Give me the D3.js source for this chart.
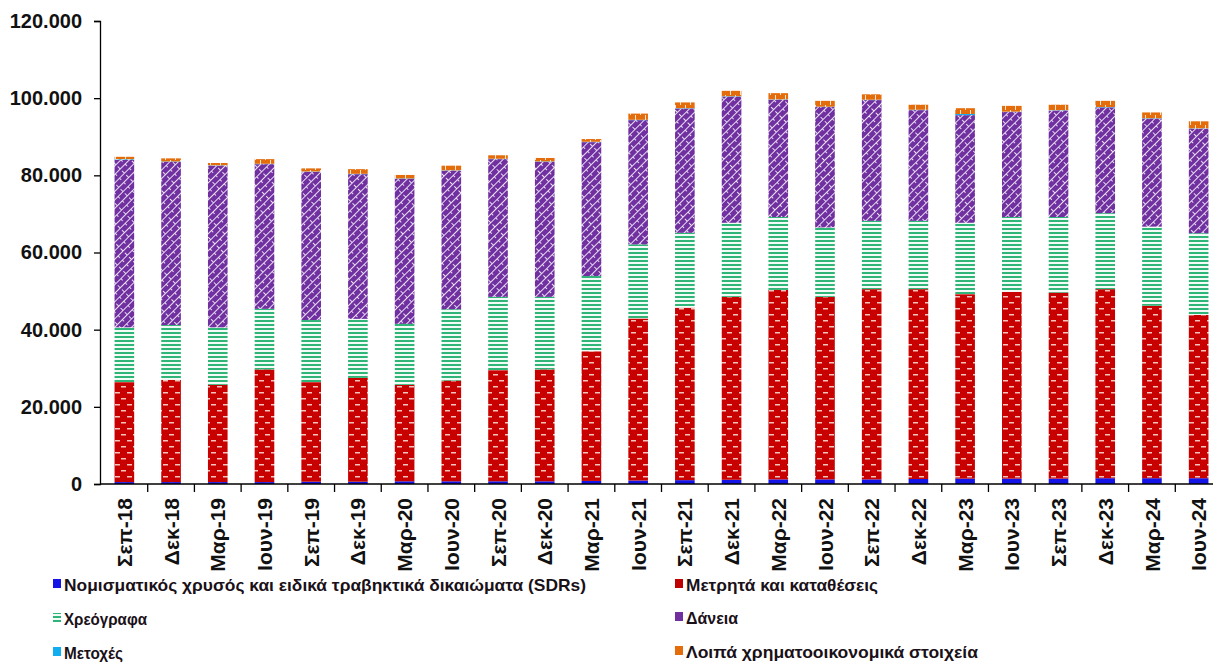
<!DOCTYPE html>
<html>
<head>
<meta charset="utf-8">
<script src="https://cdn.jsdelivr.net/npm/d3@7"></script>
<style>
  html, body { margin: 0; padding: 0; background: #ffffff; }
  svg { display: block; font-family: "Liberation Sans", Arial, sans-serif; }
</style>
</head>
<body>
<svg id="chart" width="1213" height="663"></svg>
<script>
// ---- Data (million EUR) ----
const categories = ["Σεπ-18","Δεκ-18","Μαρ-19","Ιουν-19","Σεπ-19","Δεκ-19","Μαρ-20","Ιουν-20","Σεπ-20","Δεκ-20","Μαρ-21","Ιουν-21","Σεπ-21","Δεκ-21","Μαρ-22","Ιουν-22","Σεπ-22","Δεκ-22","Μαρ-23","Ιουν-23","Σεπ-23","Δεκ-23","Μαρ-24","Ιουν-24"];
const gold       = [500,500,500,500,600,600,700,700,700,700,800,900,1000,1100,1200,1200,1200,1300,1400,1400,1400,1500,1500,1500];
const cash       = [25900,26500,25200,29200,25800,26900,25000,26100,28800,29000,33600,42000,44700,47400,49100,47300,49300,49200,47800,48400,48200,49000,44700,42300];
const securities = [14200,14200,14900,15700,16100,15300,15800,18500,19000,18800,19500,19200,19400,19200,18900,18000,17700,17700,18500,19400,19600,19700,20500,21200];
const loans      = [43400,42300,41900,37500,38400,37500,37600,35900,35700,35000,34700,32200,32200,32700,30400,31200,31300,28700,27900,27200,27600,27400,28000,27100];
const shares     = [200,100,100,100,100,100,100,100,100,100,100,100,100,100,100,100,100,100,300,100,100,100,100,100];
const other      = [600,800,600,1200,800,1200,900,1200,900,900,700,1600,1500,1400,1600,1500,1400,1300,1500,1500,1400,1600,1500,1800];
const yTicks = [0,20000,40000,60000,80000,100000,120000];
const seriesNames = {
  gold: "Νομισματικός χρυσός και ειδικά τραβηκτικά δικαιώματα (SDRs)",
  cash: "Μετρητά και καταθέσεις",
  securities: "Χρεόγραφα",
  loans: "Δάνεια",
  shares: "Μετοχές",
  other: "Λοιπά χρηματοοικονομικά  στοιχεία"
};

const keys = ["gold","cash","securities","loans","shares","other"];
const table = categories.map((c, i) => ({
  cat: c, gold: gold[i], cash: cash[i], securities: securities[i],
  loans: loans[i], shares: shares[i], other: other[i]
}));

const svg = d3.select("#chart");
const defs = svg.append("defs");

// ---- Patterns ----
const pGold = defs.append("pattern").attr("id","p-gold").attr("patternUnits","userSpaceOnUse").attr("width",6).attr("height",6);
pGold.append("rect").attr("width",6).attr("height",6).attr("fill","#1414e6");

const pCash = defs.append("pattern").attr("id","p-cash").attr("patternUnits","userSpaceOnUse").attr("width",12).attr("height",12);
pCash.append("rect").attr("width",12).attr("height",12).attr("fill","#c80000");
pCash.append("rect").attr("x",1).attr("y",2).attr("width",5).attr("height",1.5).attr("fill","#f2c6bf");
pCash.append("rect").attr("x",7).attr("y",8).attr("width",5).attr("height",1.5).attr("fill","#f2c6bf");

const pSec = defs.append("pattern").attr("id","p-sec").attr("patternUnits","userSpaceOnUse").attr("width",4).attr("height",4);
pSec.append("rect").attr("width",4).attr("height",4).attr("fill","#f2fbf6");
pSec.append("rect").attr("width",4).attr("height",2).attr("fill","#2fb578");

const pLoans = defs.append("pattern").attr("id","p-loans").attr("patternUnits","userSpaceOnUse")
  .attr("width",14).attr("height",6).attr("patternTransform","rotate(-45)");
pLoans.append("rect").attr("width",14).attr("height",6).attr("fill","#7030a0");
pLoans.append("path").attr("d","M0,0.5H14M0.5,0V3M7.5,3V6")
  .attr("stroke","#e8def2").attr("stroke-width",1).attr("fill","none");

const pShares = defs.append("pattern").attr("id","p-shares").attr("patternUnits","userSpaceOnUse").attr("width",6).attr("height",6);
pShares.append("rect").attr("width",6).attr("height",6).attr("fill","#10aef0");
pShares.append("path").attr("d","M0,2L3,4L6,2").attr("stroke","#ffffff").attr("stroke-width",0.8).attr("fill","none");

const pOther = defs.append("pattern").attr("id","p-other").attr("patternUnits","userSpaceOnUse").attr("width",10).attr("height",10);
pOther.append("rect").attr("width",10).attr("height",10).attr("fill","#e46c0a");
pOther.append("path").attr("d","M0.5,0V5M5.5,5V10").attr("stroke","#fbe3d0").attr("stroke-width",1).attr("fill","none");

const fills = {gold:"url(#p-gold)", cash:"url(#p-cash)", securities:"url(#p-sec)", loans:"url(#p-loans)", shares:"url(#p-shares)", other:"url(#p-other)"};
const legendFills = {gold:"#1414e6", cash:"#c00000", securities:"url(#p-sec)", loans:"#7030a0", shares:"#10aef0", other:"#e46c0a"};

// ---- Scales ----
const x = d3.scaleBand().domain(categories).range([101, 1222]).paddingInner(0.58).paddingOuter(0.29);
const y = d3.scaleLinear().domain([0, 120000]).range([484, 21]);

const stacked = d3.stack().keys(keys)(table);

// ---- Bars ----
const g = svg.append("g");
stacked.forEach(layer => {
  g.append("g").attr("fill", fills[layer.key])
    .selectAll("rect").data(layer).join("rect")
    .attr("x", d => x(d.data.cat))
    .attr("width", x.bandwidth())
    .attr("y", d => y(d[1]))
    .attr("height", d => Math.max(0, y(d[0]) - y(d[1])));
});

// ---- Y axis ----
const yAxis = d3.axisLeft(y).tickValues(yTicks).tickSize(6).tickPadding(12)
  .tickFormat(d => d3.format(",")(d).replace(/,/g, "."));
const ya = svg.append("g").attr("transform","translate(100,0)").call(yAxis);
ya.select(".domain").attr("stroke","#000").attr("stroke-width",1.3);
ya.selectAll(".tick line").attr("stroke","#000").attr("stroke-width",1.3);
ya.selectAll(".tick text").attr("font-size",20).attr("font-weight","bold").attr("fill","#111")
  .attr("font-family","'Liberation Sans', Arial, sans-serif");

// ---- X axis ----
const boundaries = d3.range(1, categories.length).map(i => x.range()[0] + i * x.step());
const xa = svg.append("g");
xa.append("line").attr("x1",100).attr("x2",1213).attr("y1",484).attr("y2",484).attr("stroke","#000").attr("stroke-width",1.3);
xa.selectAll("line.tk").data(boundaries).join("line").attr("class","tk")
  .attr("x1", d => d).attr("x2", d => d).attr("y1", 484).attr("y2", 492)
  .attr("stroke","#000").attr("stroke-width",1.3);
xa.selectAll("text").data(categories).join("text")
  .attr("transform", d => `translate(${x(d) + x.bandwidth()/2},498) rotate(-90)`)
  .attr("dy","0.36em").attr("text-anchor","end")
  .attr("font-size",21).attr("font-weight","bold").attr("fill","#111")
  .text(d => d);

// ---- Legend ----
const legendItems = [
  {key:"gold", x:53, y:591, tl:522},
  {key:"cash", x:675, y:591, tl:192},
  {key:"securities", x:53, y:625, tl:83},
  {key:"loans", x:675, y:624, tl:52},
  {key:"shares", x:53, y:659, tl:59},
  {key:"other", x:675, y:658, tl:292}
];
const lg = svg.append("g");
legendItems.forEach(it => {
  lg.append("rect").attr("x", it.x).attr("y", it.y - 12).attr("width", 8).attr("height", 9).attr("fill", legendFills[it.key]);
  lg.append("text").attr("x", it.x + 11).attr("y", it.y)
    .attr("font-size", 17).attr("font-weight","bold").attr("fill","#1a1018")
    .attr("textLength", it.tl).attr("lengthAdjust","spacingAndGlyphs")
    .text(seriesNames[it.key]);
});
</script>
</body>
</html>
